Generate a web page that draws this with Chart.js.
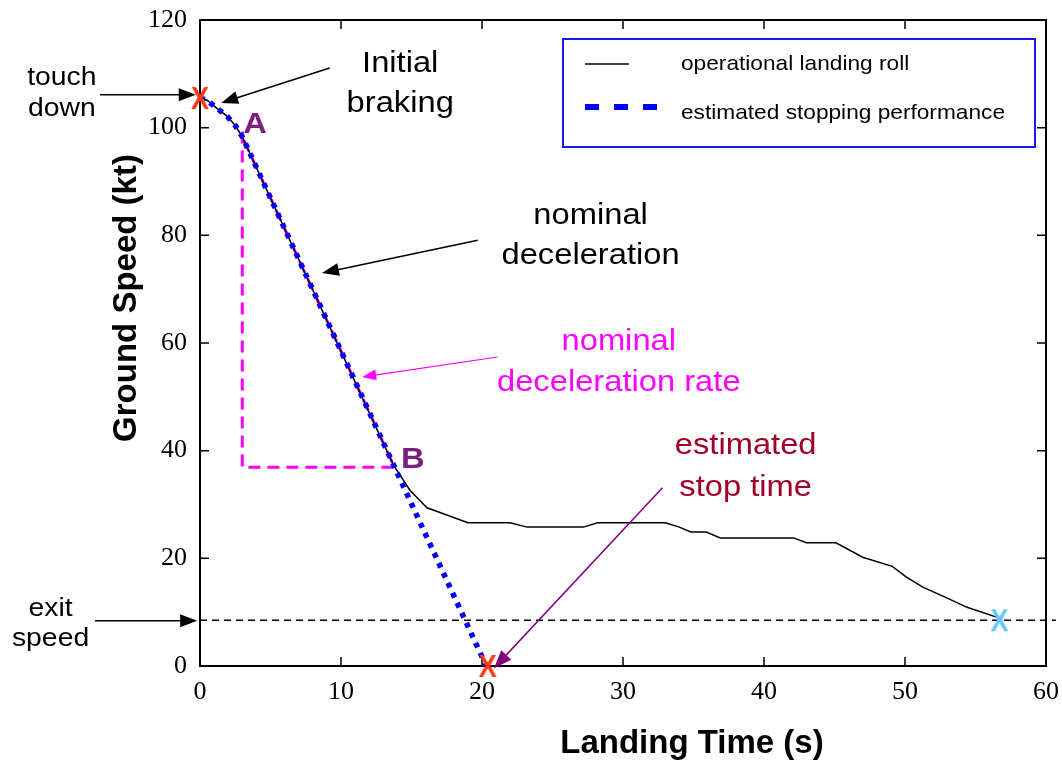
<!DOCTYPE html>
<html>
<head>
<meta charset="utf-8">
<script src="https://cdn.jsdelivr.net/npm/chart.js@4.4.1/dist/chart.umd.min.js"></script>
<style>
  body { margin: 0; background: #fff; }
  #wrap { width: 1062px; height: 761px; }
</style>
</head>
<body>
<div id="wrap"><canvas id="landingChart" width="1062" height="761"></canvas></div>
<script>
// operational landing roll: time (s) / ground speed (kt)
const rollTime  = [0, 0.5, 1.2, 1.9, 2.5, 3, 13.7, 14.9, 16.1, 19, 22, 23.2, 27.2, 28.2, 33, 34, 34.8, 35.9, 36.9, 42.1, 43, 45.1, 47, 49.1, 50.1, 51.3, 53, 54.4, 56.7];
const rollSpeed = [105.5, 105.1, 103.6, 102.2, 100.4, 98.3, 37.4, 32.6, 29.4, 26.6, 26.6, 25.8, 25.8, 26.6, 26.6, 25.8, 24.9, 24.9, 23.8, 23.8, 22.9, 22.9, 20.2, 18.5, 16.5, 14.6, 12.6, 10.9, 8.9];

// estimated stopping performance (initial braking, then nominal deceleration to stop)
const estTime  = [0, 0.5, 1.2, 1.9, 2.5, 3, 20.3];
const estSpeed = [105.5, 105.1, 103.6, 102.2, 100.4, 98.3, 0];

// nominal deceleration rate triangle A -> B
const rateTime  = [3, 3, 13.8, 3];
const rateSpeed = [99.3, 36.9, 36.9, 98.3];

// exit speed reference
const exitTime  = [0, 60.7];
const exitSpeed = [8.5, 8.5];

// event markers: touch down, estimated stop, exit
const touchDown = {x: 0, y: 105.5};
const stopPoint = {x: 20.4, y: 0};
const exitPoint = {x: 56.7, y: 8.5};

const xTicks = [0, 10, 20, 30, 40, 50, 60];
const yTicks = [0, 20, 40, 60, 80, 100, 120];

const SANS = '"Liberation Sans", Arial, sans-serif';
const SERIF = '"Liberation Serif", "Times New Roman", serif';

function pts(xs, ys) {
  return xs.map((v, i) => ({x: v, y: ys[i]}));
}

// "X" glyph used as point style
function xMark(color) {
  const c = document.createElement('canvas');
  c.width = 26; c.height = 30;
  const g = c.getContext('2d');
  g.fillStyle = color;
  g.font = 'bold 30px ' + SANS;
  g.textAlign = 'center';
  g.textBaseline = 'alphabetic';
  g.save();
  g.translate(13, 26);
  g.scale(0.9, 1.05);
  g.fillText('X', 0, 0);
  g.restore();
  return c;
}

// text labels and arrows, anchored in data units
const notes = [
  {lines: ['touch', 'down'], x: -9.8, y: 106.3, gap: 31, size: 26, color: '#000'},
  {lines: ['Initial', 'braking'], x: 14.2, y: 108.1, gap: 40, size: 30, color: '#000'},
  {lines: ['A'], x: 3.9, y: 100.6, size: 30, bold: true, color: '#7b1f7b'},
  {lines: ['nominal', 'deceleration'], x: 27.7, y: 80.0, gap: 40, size: 30, color: '#000'},
  {lines: ['nominal', 'deceleration rate'], x: 29.7, y: 56.4, gap: 41, size: 30, color: '#ff00ff'},
  {lines: ['B'], x: 15.1, y: 38.3, size: 30, bold: true, color: '#7b1f7b'},
  {lines: ['estimated', 'stop time'], x: 38.7, y: 37.1, gap: 42, size: 30, color: '#a00028'},
  {lines: ['exit', 'speed'], x: -10.6, y: 7.9, gap: 30, size: 26, color: '#000'}
];

const arrows = [
  {from: [-7.1, 106.1], to: [-0.3, 106.1], color: '#000', width: 1.5, head: 17},
  {from: [9.2, 111.1], to: [1.5, 104.6], color: '#000', width: 1.5, head: 17},
  {from: [19.7, 79.1], to: [8.65, 73.0], color: '#000', width: 1.5, head: 17},
  {from: [21.1, 57.4], to: [11.5, 53.7], color: '#ff00ff', width: 1.2, head: 14},
  {from: [32.8, 33.1], to: [20.85, -0.4], color: '#800080', width: 1.5, head: 18},
  {from: [-7.45, 8.4], to: [-0.2, 8.4], color: '#000', width: 1.5, head: 17}
];

function drawArrow(ctx, x1, y1, x2, y2, color, lw, head) {
  const a = Math.atan2(y2 - y1, x2 - x1);
  const c = Math.cos(a), s = Math.sin(a);
  const hw = head * 0.38;
  ctx.strokeStyle = color;
  ctx.fillStyle = color;
  ctx.lineWidth = lw;
  ctx.beginPath();
  ctx.moveTo(x1, y1);
  ctx.lineTo(x2 - head * 0.8 * c, y2 - head * 0.8 * s);
  ctx.stroke();
  ctx.beginPath();
  ctx.moveTo(x2, y2);
  ctx.lineTo(x2 - head * c + hw * s, y2 - head * s - hw * c);
  ctx.lineTo(x2 - head * c - hw * s, y2 - head * s + hw * c);
  ctx.closePath();
  ctx.fill();
}

// text slightly widened like the original lettering
function wideText(ctx, txt, x, y, stretch) {
  ctx.save();
  ctx.translate(x, y);
  ctx.scale(stretch, 1);
  ctx.fillText(txt, 0, 0);
  ctx.restore();
}

const frame = {
  id: 'frame',
  beforeDatasetsDraw(chart) {
    const {ctx, chartArea: a, scales: {x, y}} = chart;
    ctx.save();
    ctx.strokeStyle = '#000';
    ctx.lineWidth = 2;
    ctx.strokeRect(a.left, a.top, a.right - a.left, a.bottom - a.top);
    ctx.lineWidth = 1.5;
    ctx.beginPath();
    xTicks.forEach(v => {
      const p = x.getPixelForValue(v);
      ctx.moveTo(p, a.bottom); ctx.lineTo(p, a.bottom - 9);
      ctx.moveTo(p, a.top); ctx.lineTo(p, a.top + 9);
    });
    yTicks.forEach(v => {
      const p = y.getPixelForValue(v);
      ctx.moveTo(a.left, p); ctx.lineTo(a.left + 9, p);
      ctx.moveTo(a.right, p); ctx.lineTo(a.right - 9, p);
    });
    ctx.stroke();
    ctx.restore();
  }
};

const notesPlugin = {
  id: 'notes',
  afterDraw(chart) {
    const {ctx, scales: {x, y}} = chart;
    ctx.save();
    arrows.forEach(r => {
      drawArrow(ctx, x.getPixelForValue(r.from[0]), y.getPixelForValue(r.from[1]),
        x.getPixelForValue(r.to[0]), y.getPixelForValue(r.to[1]), r.color, r.width, r.head);
    });
    ctx.textAlign = 'center';
    ctx.textBaseline = 'middle';
    notes.forEach(n => {
      ctx.fillStyle = n.color;
      ctx.font = (n.bold ? 'bold ' : '') + n.size + 'px ' + SANS;
      const cx = x.getPixelForValue(n.x);
      const cy = y.getPixelForValue(n.y);
      const gap = n.gap || 0;
      const top = cy - gap * (n.lines.length - 1) / 2;
      n.lines.forEach((t, i) => wideText(ctx, t, cx, top + i * gap, 1.09));
    });

    // legend
    ctx.strokeStyle = '#1a1aee';
    ctx.lineWidth = 2;
    ctx.strokeRect(563, 39, 472, 108);
    ctx.strokeStyle = '#000';
    ctx.lineWidth = 1.5;
    ctx.beginPath(); ctx.moveTo(585, 64); ctx.lineTo(629, 64); ctx.stroke();
    ctx.fillStyle = '#0000ff';
    [585, 614, 643].forEach(px => ctx.fillRect(px, 104, 14, 6));
    ctx.fillStyle = '#000';
    ctx.font = '21px ' + SANS;
    ctx.textAlign = 'left';
    wideText(ctx, 'operational landing roll', 681, 64, 1.08);
    wideText(ctx, 'estimated stopping performance', 681, 113, 1.08);

    // axis titles
    ctx.font = 'bold 33px ' + SANS;
    ctx.textAlign = 'center';
    ctx.fillText('Landing Time (s)', 692, 744);
    ctx.translate(127, 298);
    ctx.rotate(-Math.PI / 2);
    ctx.fillText('Ground Speed (kt)', 0, 0);
    ctx.restore();
  }
};

new Chart(document.getElementById('landingChart'), {
  type: 'line',
  data: {
    datasets: [
      {
        label: 'markers',
        data: [touchDown, stopPoint, exitPoint],
        showLine: false,
        pointStyle: [xMark('#ff3a14'), xMark('#ff3a14'), xMark('#5ec8ff')],
        pointRadius: 12,
        clip: false,
        order: 0
      },
      {
        label: 'estimated stopping performance',
        data: pts(estTime, estSpeed),
        borderColor: '#0000ff',
        borderWidth: 5.5,
        borderDash: [5, 6],
        pointRadius: 0,
        order: 1
      },
      {
        label: 'operational landing roll',
        data: pts(rollTime, rollSpeed),
        borderColor: '#000',
        borderWidth: 1.5,
        pointRadius: 0,
        order: 2
      },
      {
        label: 'nominal deceleration rate',
        data: pts(rateTime, rateSpeed),
        borderColor: '#ff00ff',
        borderWidth: 3,
        borderDash: [12, 7],
        pointRadius: 0,
        order: 3
      },
      {
        label: 'exit speed',
        data: pts(exitTime, exitSpeed),
        borderColor: '#000',
        borderWidth: 1.5,
        borderDash: [7, 5],
        pointRadius: 0,
        clip: false,
        order: 4
      }
    ]
  },
  options: {
    responsive: false,
    animation: false,
    events: [],
    layout: {padding: {left: 0, right: 16, top: 20, bottom: 0}},
    plugins: {legend: {display: false}, tooltip: {enabled: false}},
    elements: {line: {tension: 0, fill: false}},
    scales: {
      x: {
        type: 'linear',
        min: 0, max: 60,
        afterBuildTicks: s => { s.ticks = xTicks.map(v => ({value: v})); },
        afterFit: s => { s.height = 95; s.paddingLeft = 0; s.paddingRight = 0; },
        grid: {display: false},
        border: {display: false},
        ticks: {color: '#000', padding: 3, font: {family: SERIF, size: 26}, maxRotation: 0}
      },
      y: {
        type: 'linear',
        min: 0, max: 120,
        afterBuildTicks: s => { s.ticks = yTicks.map(v => ({value: v})); },
        afterFit: s => { s.width = 200; s.paddingTop = 0; s.paddingBottom = 0; },
        grid: {display: false},
        border: {display: false},
        ticks: {color: '#000', padding: 5, font: {family: SERIF, size: 26}}
      }
    }
  },
  plugins: [frame, notesPlugin]
});
</script>
</body>
</html>
